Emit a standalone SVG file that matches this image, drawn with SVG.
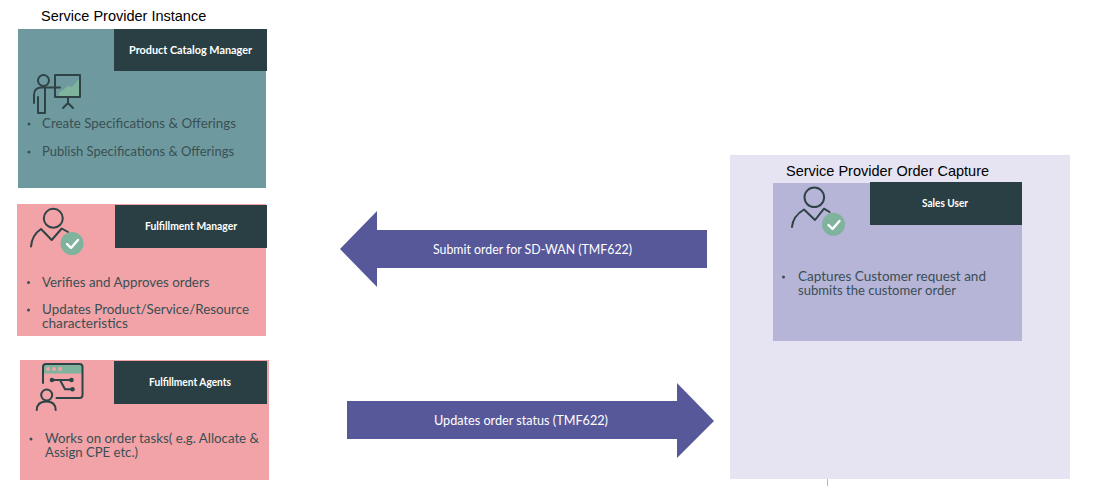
<svg xmlns="http://www.w3.org/2000/svg" width="1094" height="496" viewBox="0 0 1094 496">
<style>
.t{font-family:"Liberation Sans",Arial,sans-serif;font-size:14.5px;fill:#000}
.b{font-family:Lato,"Open Sans",sans-serif;font-size:13.2px;fill:#3a4f54}
.d{fill:#3a4f54}
.h{font-family:Lato,"Open Sans",sans-serif;font-size:10.4px;font-weight:700;fill:#fff;text-anchor:middle}
.a{font-family:Lato,"Open Sans",sans-serif;font-size:13px;fill:#fff;text-anchor:middle}
.hd{fill:#2a3f43}
.i{fill:none;stroke:#2f4347;stroke-width:2;stroke-linecap:round;stroke-linejoin:round}
.c{fill:#7fb39e}
.k{fill:none;stroke:#fff;stroke-width:2.4;stroke-linecap:round;stroke-linejoin:round}
.ar{fill:#57589a}
</style>
<rect width="1094" height="496" fill="#fff"/>
<g id="product-catalog-manager">
<text class="t" x="41" y="21">Service Provider Instance</text>
<rect x="18" y="29" width="248" height="159" fill="#6e9a9f"/>
<rect class="hd" x="114" y="29" width="153" height="42"/>
<text class="h" x="190.500" y="53.500" textLength="123" lengthAdjust="spacingAndGlyphs">Product Catalog Manager</text>
<path d="M59 93 L68 86 L72 87 L79 79 V96 H59 Z" fill="#7fb39e"/>
<rect class="i" x="55" y="75" width="25" height="22"/>
<circle class="i" cx="43.500" cy="80.500" r="5.500"/>
<path class="i" d="M60 87.500 H41 Q34 88 34 95 V103 M38 97 V113 H45 V88 M68 97 V103 M63 108 L68 103 L73 108"/>
<circle class="d" cx="29" cy="124" r="1.500"/><text class="b" x="42" y="128" textLength="194" lengthAdjust="spacingAndGlyphs">Create Specifications &amp; Offerings</text>
<circle class="d" cx="29" cy="152" r="1.500"/><text class="b" x="42" y="156" textLength="192" lengthAdjust="spacingAndGlyphs">Publish Specifications &amp; Offerings</text>
</g>
<g id="fulfillment-manager">
<rect x="17" y="204" width="249" height="132" fill="#f1a3a7"/>
<rect class="hd" x="115" y="205" width="152" height="43"/>
<text class="h" x="191" y="230" textLength="92" lengthAdjust="spacingAndGlyphs">Fulfillment Manager</text>
<circle class="i" cx="53.300" cy="218.300" r="9.500"/>
<path class="i" d="M31 246.500 Q32 235 41 229 L51.700 240 L61.700 228.500 L68 232"/>
<circle class="c" cx="72" cy="243.500" r="11.500"/>
<path class="k" d="M67 244 L71 248 L78 240"/>
<circle class="d" cx="28.500" cy="282.500" r="1.500"/><text class="b" x="42" y="286.500" textLength="167.500" lengthAdjust="spacingAndGlyphs">Verifies and Approves orders</text>
<circle class="d" cx="28.500" cy="310" r="1.500"/><text class="b"><tspan x="42" y="314" textLength="207" lengthAdjust="spacingAndGlyphs">Updates Product/Service/Resource</tspan><tspan x="42" y="327.500" textLength="86" lengthAdjust="spacingAndGlyphs">characteristics</tspan></text>
</g>
<g id="fulfillment-agents">
<rect x="20" y="360" width="249" height="120" fill="#f1a3a7"/>
<rect class="hd" x="114" y="361" width="153" height="43"/>
<text class="h" x="190" y="386" textLength="82" lengthAdjust="spacingAndGlyphs">Fulfillment Agents</text>
<rect x="43" y="364" width="39.500" height="9.500" fill="#7fb39e"/>
<circle cx="48" cy="369" r="2" fill="#f1a3a7"/><circle cx="54" cy="369" r="2" fill="#f1a3a7"/><circle cx="60" cy="369" r="2" fill="#f1a3a7"/>
<path class="i" d="M43 383 V367 Q43 364 46 364 H79.500 Q82.500 364 82.500 367 V395 Q82.500 398 79.500 398 H56.500"/>
<circle class="i" cx="46.700" cy="395" r="5.500"/>
<path class="i" d="M36.700 410 Q37 401.500 46.500 401.500 Q55.500 401.500 55.700 410"/>
<path class="i" d="M52 380 H71.500 M60 380 L65 389.300 H72.500"/>
<circle cx="52" cy="380" r="2.300" fill="#2f4347"/><circle cx="71.500" cy="380" r="2.300" fill="#2f4347"/><circle cx="72.500" cy="389.300" r="2.300" fill="#2f4347"/>
<circle class="d" cx="31" cy="439" r="1.500"/><text class="b"><tspan x="45" y="443" textLength="214" lengthAdjust="spacingAndGlyphs">Works on order tasks( e.g. Allocate &amp;</tspan><tspan x="45" y="456.500" textLength="93" lengthAdjust="spacingAndGlyphs">Assign CPE etc.)</tspan></text>
</g>
<g id="order-capture">
<rect x="730" y="155" width="340" height="324" fill="#e6e4f2"/>
<line x1="827.500" y1="479" x2="827.500" y2="486" stroke="#b5b5b5"/>
<text class="t" x="786" y="176">Service Provider Order Capture</text>
</g>
<g id="sales-user">
<rect x="773" y="183" width="249" height="158" fill="#b6b4d7"/>
<rect class="hd" x="870" y="182" width="152" height="43"/>
<text class="h" x="945" y="207" textLength="46" lengthAdjust="spacingAndGlyphs">Sales User</text>
<circle class="i" cx="814.300" cy="197.300" r="9.800"/>
<path class="i" d="M792 227 Q793 216 804 209.500 L815 220 L824 208.700 L829.500 212"/>
<circle class="c" cx="833.500" cy="224.300" r="11.500"/>
<path class="k" d="M828.500 225 L832.500 229 L839.500 221"/>
<circle class="d" cx="783.500" cy="277" r="1.500"/><text class="b"><tspan x="798" y="281" textLength="188" lengthAdjust="spacingAndGlyphs">Captures Customer request and</tspan><tspan x="798" y="294.500" textLength="158" lengthAdjust="spacingAndGlyphs">submits the customer order</tspan></text>
</g>
<g id="connectors">
<path class="ar" d="M340 249 L377 211 V230 H707 V268 H377 V287 Z"/>
<text class="a" x="532.500" y="254" textLength="199" lengthAdjust="spacingAndGlyphs">Submit order for SD-WAN (TMF622)</text>
<path class="ar" d="M347 401 H677 V383 L714 421 L677 458 V439 H347 Z"/>
<text class="a" x="521" y="425" textLength="174" lengthAdjust="spacingAndGlyphs">Updates order status (TMF622)</text>
</g>
</svg>
